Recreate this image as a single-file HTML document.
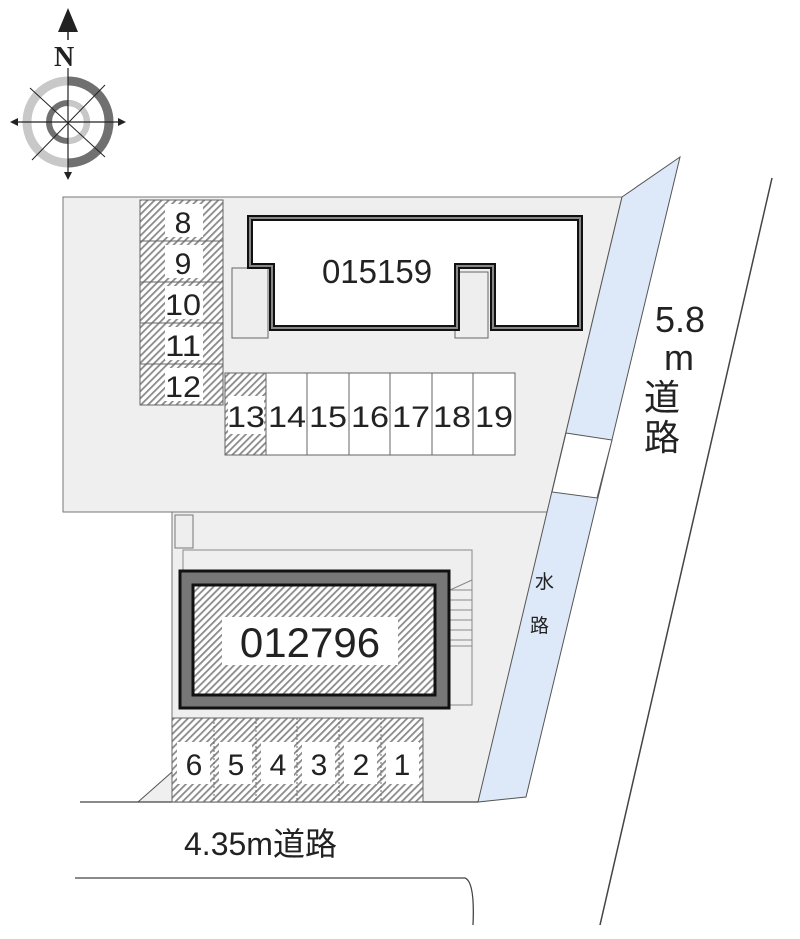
<!DOCTYPE html>
<html><head><meta charset="utf-8"><style>
html,body{margin:0;padding:0;background:#fff;}
svg{display:block}
text{font-family:"Liberation Sans","Noto Sans CJK JP",sans-serif;fill:#222}
</style></head><body>
<svg width="800" height="939" viewBox="0 0 800 939" xmlns="http://www.w3.org/2000/svg">
<defs>
<pattern id="h" width="5" height="5" patternUnits="userSpaceOnUse" patternTransform="rotate(45)">
<rect width="5" height="5" fill="#fff"/><rect width="1.8" height="5" fill="#8a8a8a"/>
</pattern>
</defs>
<polygon points="63,197 622,197 557,470 548,512 63,512" fill="#efefef" stroke="#777" stroke-width="1"/>
<polygon points="172,512 552,512 478,802 172,802" fill="#efefef" stroke="#777" stroke-width="1"/>
<polygon points="138,802 172,772 172,802" fill="#efefef" stroke="#555" stroke-width="1"/>
<polygon points="622,197 680,157 526,797 478,802" fill="#dde9f8" stroke="#555" stroke-width="1"/>
<polygon points="566,433 612,440 597,498 552,492" fill="#fff" stroke="#555" stroke-width="1"/>
<text x="535" y="588" font-size="19">水</text>
<text x="530" y="632" font-size="19">路</text>
<line x1="80" y1="802" x2="478" y2="802" stroke="#444" stroke-width="1.3"/>
<path d="M75,878 L465,878 Q475,882 473,925" fill="none" stroke="#444" stroke-width="1.3"/>
<line x1="772" y1="178" x2="600" y2="925" stroke="#444" stroke-width="1.5"/>
<text x="184" y="855" font-size="32">4.35m道路</text>
<g font-size="36">
<text x="655" y="332">5.8</text>
<text x="664" y="370">m</text>
<text x="644" y="410">道</text>
<text x="644" y="450">路</text>
</g>
<g>
<circle cx="68" cy="122" r="41" fill="none" stroke="#c8c8c8" stroke-width="9"/>
<path d="M68,81 A41,41 0 0 1 68,163" fill="none" stroke="#707070" stroke-width="9"/>
<circle cx="68" cy="122" r="19" fill="none" stroke="#707070" stroke-width="6"/>
<path d="M68,103 A19,19 0 0 1 68,141" fill="none" stroke="#c8c8c8" stroke-width="6"/>
<line x1="68" y1="68" x2="68" y2="176" stroke="#222" stroke-width="1.2"/>
<line x1="12" y1="122" x2="124" y2="122" stroke="#222" stroke-width="1.2"/>
<line x1="30" y1="88" x2="105" y2="157" stroke="#222" stroke-width="1"/>
<line x1="105" y1="85" x2="32" y2="160" stroke="#222" stroke-width="1"/>
<polygon points="68,8 58,32 78,32" fill="#222"/>
<line x1="68" y1="30" x2="68" y2="40" stroke="#222" stroke-width="1.5"/>
<text x="54" y="66" font-size="28" font-weight="bold" style="font-family:'Liberation Serif',serif">N</text>
<polygon points="10,122 18,118 18,126" fill="#222"/>
<polygon points="126,122 118,118 118,126" fill="#222"/>
<polygon points="68,180 64,172 72,172" fill="#222"/>
</g>
<g stroke="#666" stroke-width="1">
<rect x="140" y="200" width="83" height="205" fill="url(#h)"/>
<line x1="140" y1="241" x2="223" y2="241"/><line x1="140" y1="282" x2="223" y2="282"/>
<line x1="140" y1="323" x2="223" y2="323"/><line x1="140" y1="364" x2="223" y2="364"/>
</g>
<g fill="#fff">
<rect x="165" y="204" width="38" height="33"/><rect x="165" y="245" width="38" height="33"/>
<rect x="165" y="286" width="38" height="33"/><rect x="165" y="327" width="38" height="33"/>
<rect x="165" y="368" width="38" height="33"/>
</g>
<g font-size="30" text-anchor="middle">
<text x="183" y="233">8</text><text x="183" y="274">9</text><text x="183" y="315" textLength="36" lengthAdjust="spacingAndGlyphs">10</text>
<text x="183" y="356" textLength="36" lengthAdjust="spacingAndGlyphs">11</text><text x="183" y="397" textLength="36" lengthAdjust="spacingAndGlyphs">12</text>
</g>
<g stroke="#666" stroke-width="1">
<rect x="225" y="373" width="41" height="82" fill="url(#h)"/>
<rect x="266" y="373" width="249" height="82" fill="#fff"/>
<line x1="307" y1="373" x2="307" y2="455"/><line x1="349" y1="373" x2="349" y2="455"/>
<line x1="390" y1="373" x2="390" y2="455"/><line x1="432" y1="373" x2="432" y2="455"/>
<line x1="473" y1="373" x2="473" y2="455"/>
</g>
<rect x="228" y="396" width="36" height="38" fill="#fff"/>
<g font-size="30" text-anchor="middle">
<text x="246" y="427" textLength="38" lengthAdjust="spacingAndGlyphs">13</text><text x="287" y="427" textLength="38" lengthAdjust="spacingAndGlyphs">14</text><text x="328" y="427" textLength="38" lengthAdjust="spacingAndGlyphs">15</text>
<text x="370" y="427" textLength="38" lengthAdjust="spacingAndGlyphs">16</text><text x="411" y="427" textLength="38" lengthAdjust="spacingAndGlyphs">17</text><text x="452" y="427" textLength="38" lengthAdjust="spacingAndGlyphs">18</text><text x="494" y="427" textLength="38" lengthAdjust="spacingAndGlyphs">19</text>
</g>
<rect x="232" y="268" width="36" height="70" fill="#eee" stroke="#666"/>
<rect x="455" y="272" width="33" height="66" fill="#eee" stroke="#666"/>
<polygon points="250,218 580,218 580,328 493,328 493,266 457,266 457,328 272,328 272,266 250,266" fill="#fff" stroke="#111" stroke-width="6"/>
<polygon points="250,218 580,218 580,328 493,328 493,266 457,266 457,328 272,328 272,266 250,266" fill="none" stroke="#888" stroke-width="2"/>
<text x="377" y="283" font-size="33" text-anchor="middle">015159</text>
<rect x="175" y="515" width="18" height="33" fill="#eee" stroke="#777"/>
<rect x="183" y="550" width="289" height="155" fill="none" stroke="#888"/>
<g stroke="#888" stroke-width="1">
<line x1="450" y1="590" x2="472" y2="580"/>
<line x1="450" y1="590" x2="472" y2="590"/><line x1="450" y1="600" x2="472" y2="600"/>
<line x1="450" y1="610" x2="472" y2="610"/><line x1="450" y1="620" x2="472" y2="620"/>
<line x1="450" y1="630" x2="472" y2="630"/><line x1="450" y1="640" x2="472" y2="640"/>
<line x1="450" y1="646" x2="472" y2="646"/>
</g>
<rect x="180" y="571" width="269" height="137" fill="#777" stroke="#111" stroke-width="3"/>
<rect x="193" y="585" width="242" height="110" fill="url(#h)" stroke="#111" stroke-width="3"/>
<rect x="222" y="617" width="176" height="48" fill="#fff"/>
<text x="310" y="657" font-size="42" text-anchor="middle">012796</text>
<g stroke="#666" stroke-width="1">
<rect x="172" y="718" width="251" height="84" fill="url(#h)"/>
<line x1="214" y1="718" x2="214" y2="802" stroke-dasharray="2,2"/>
<line x1="256" y1="718" x2="256" y2="802" stroke-dasharray="2,2"/>
<line x1="297" y1="718" x2="297" y2="802" stroke-dasharray="2,2"/>
<line x1="339" y1="718" x2="339" y2="802" stroke-dasharray="2,2"/>
<line x1="381" y1="718" x2="381" y2="802" stroke-dasharray="2,2"/>
</g>
<g fill="#fff">
<rect x="177" y="742" width="33" height="42"/><rect x="219" y="742" width="33" height="42"/>
<rect x="261" y="742" width="33" height="42"/><rect x="302" y="742" width="33" height="42"/>
<rect x="344" y="742" width="33" height="42"/><rect x="386" y="742" width="33" height="42"/>
</g>
<g font-size="30" text-anchor="middle">
<text x="194" y="775">6</text><text x="236" y="775">5</text><text x="278" y="775">4</text>
<text x="319" y="775">3</text><text x="361" y="775">2</text><text x="402" y="775">1</text>
</g>
</svg>
</body></html>
